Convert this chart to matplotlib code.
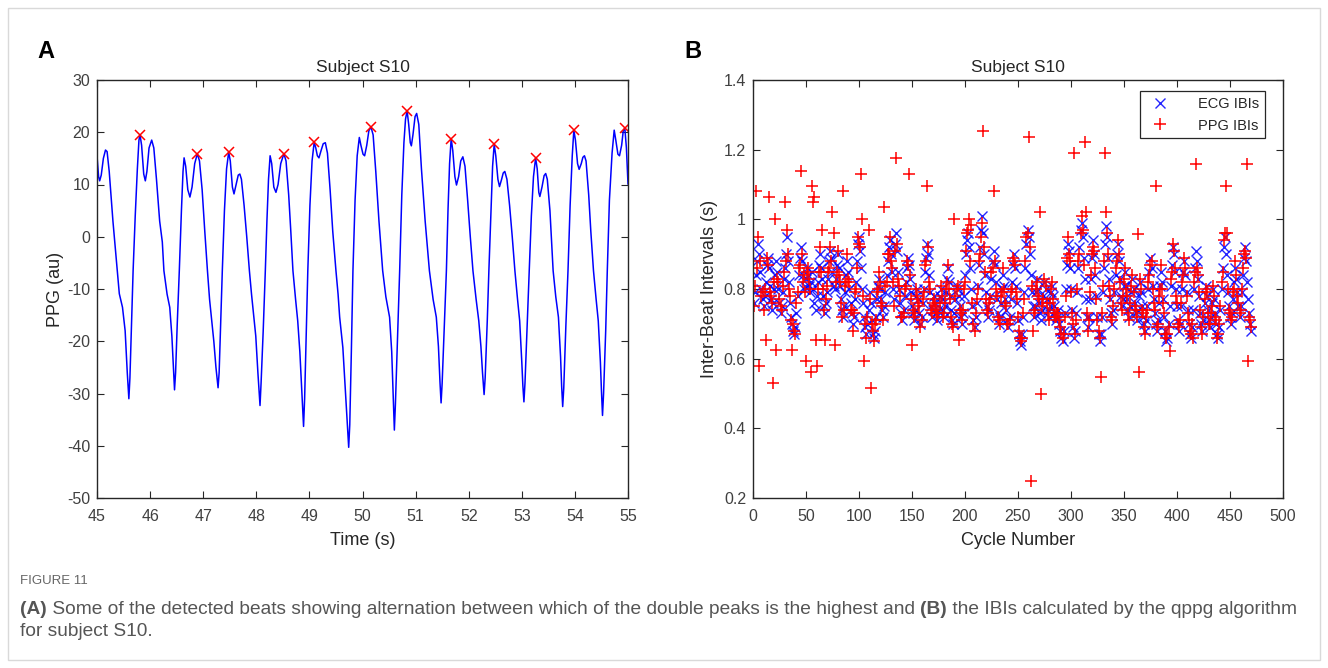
import numpy as np
import matplotlib.pyplot as plt
from matplotlib.patches import Rectangle
from matplotlib.ticker import FuncFormatter

plt.rcParams['font.family'] = ['Liberation Sans', 'DejaVu Sans']
plt.rcParams['axes.unicode_minus'] = False

# ---- panel A: PPG waveform, subject S10 (45-55 s) ----
ppg_t = [
    45.00, 45.03, 45.05, 45.08, 45.12, 45.16, 45.19, 45.23, 45.30, 45.37, 45.42, 45.48, 45.53, 45.57, 45.60,
    45.62, 45.65, 45.68, 45.72, 45.76, 45.79, 45.81, 45.84, 45.88, 45.91, 45.94, 45.98, 46.03, 46.07, 46.12,
    46.18, 46.23, 46.26, 46.32, 46.37, 46.41, 46.44, 46.46, 46.48, 46.51, 46.55, 46.59, 46.62, 46.64, 46.67,
    46.71, 46.75, 46.79, 46.84, 46.89, 46.93, 46.98, 47.03, 47.08, 47.12, 47.16, 47.20, 47.24, 47.28, 47.30,
    47.33, 47.36, 47.40, 47.44, 47.48, 47.51, 47.55, 47.58, 47.62, 47.66, 47.69, 47.72, 47.77, 47.82, 47.87,
    47.91, 47.95, 47.99, 48.03, 48.07, 48.09, 48.13, 48.17, 48.20, 48.23, 48.26, 48.29, 48.33, 48.37, 48.41,
    48.46, 48.52, 48.56, 48.61, 48.65, 48.69, 48.74, 48.78, 48.82, 48.86, 48.89, 48.91, 48.94, 48.97, 49.01,
    49.05, 49.09, 49.12, 49.15, 49.18, 49.22, 49.26, 49.30, 49.34, 49.39, 49.44, 49.50, 49.54, 49.57, 49.63,
    49.68, 49.72, 49.74, 49.76, 49.79, 49.82, 49.86, 49.90, 49.94, 49.97, 50.01, 50.04, 50.08, 50.12, 50.16,
    50.20, 50.25, 50.31, 50.38, 50.44, 50.51, 50.55, 50.58, 50.60, 50.62, 50.66, 50.70, 50.74, 50.78, 50.81,
    50.84, 50.87, 50.90, 50.92, 50.95, 50.99, 51.02, 51.06, 51.11, 51.18, 51.26, 51.33, 51.39, 51.43, 51.46,
    51.48, 51.50, 51.54, 51.58, 51.61, 51.64, 51.67, 51.70, 51.74, 51.77, 51.81, 51.85, 51.89, 51.93, 51.98,
    52.03, 52.08, 52.14, 52.19, 52.23, 52.26, 52.29, 52.31, 52.35, 52.38, 52.42, 52.45, 52.48, 52.51, 52.55,
    52.58, 52.62, 52.65, 52.68, 52.72, 52.77, 52.82, 52.87, 52.92, 52.96, 53.00, 53.02, 53.04, 53.06, 53.10,
    53.14, 53.18, 53.22, 53.26, 53.29, 53.32, 53.34, 53.38, 53.42, 53.45, 53.48, 53.53, 53.59, 53.64, 53.69,
    53.73, 53.75, 53.77, 53.79, 53.83, 53.87, 53.91, 53.95, 53.98, 54.01, 54.05, 54.08, 54.12, 54.15, 54.18,
    54.21, 54.26, 54.30, 54.35, 54.40, 54.44, 54.48, 54.50, 54.52, 54.54, 54.58, 54.61, 54.65, 54.70, 54.74,
    54.77, 54.81, 54.84, 54.88, 54.91, 54.94, 54.97, 55.00,
]
ppg_v = [
    15.5, 11.5, 10.7, 11.8, 15.0, 16.6, 16.3, 12.5, 3.0, -5.0, -10.9, -13.5, -18.0, -26.0, -31.0,
    -27.0, -17.0, -6.5, 4.0, 13.0, 18.5, 19.5, 17.5, 12.0, 10.7, 12.5, 17.0, 18.5, 17.0, 11.0,
    3.0, -1.0, -6.5, -11.0, -13.5, -19.0, -25.0, -29.3, -26.0, -17.0, -6.5, 5.0, 12.5, 15.1, 13.5,
    9.0, 7.6, 9.5, 14.0, 15.9, 14.5, 9.0, 1.0, -6.5, -12.0, -16.0, -20.0, -25.0, -28.9, -26.0,
    -16.0, -6.5, 5.0, 13.0, 16.2, 14.5, 9.5, 8.2, 10.0, 11.8, 12.0, 11.0, 6.0, 0.0, -6.5,
    -11.0, -15.0, -19.0, -26.0, -32.3, -28.0, -18.0, -6.5, 3.0, 11.0, 15.5, 14.0, 9.5, 8.5, 10.0,
    14.0, 15.9, 14.5, 8.0, 1.0, -6.5, -12.0, -16.1, -22.0, -30.0, -36.3, -31.0, -19.0, -6.5, 6.0,
    14.5, 18.1, 17.0, 15.5, 15.1, 16.5, 17.8, 18.0, 16.0, 9.0, 1.0, -6.5, -11.0, -15.4, -21.2,
    -30.0, -37.0, -40.3, -36.0, -22.0, -6.5, 7.0, 15.5, 19.0, 17.5, 15.8, 15.5, 17.5, 20.3, 21.0,
    19.5, 12.5, 3.0, -6.5, -11.5, -15.4, -22.0, -31.0, -37.0, -32.0, -19.0, -6.5, 8.0, 18.0, 22.5,
    24.1, 21.5, 18.0, 17.4, 19.5, 23.0, 23.6, 21.5, 13.0, 3.0, -6.5, -12.0, -15.4, -21.0, -28.0,
    -31.8, -28.0, -17.0, -6.5, 5.0, 14.0, 18.8, 16.5, 11.5, 9.9, 11.5, 14.5, 15.3, 13.5, 7.0,
    0.0, -6.5, -12.0, -16.1, -21.0, -26.0, -30.2, -27.0, -16.0, -6.5, 5.0, 13.5, 17.7, 15.5, 11.0,
    9.6, 11.0, 12.2, 12.5, 11.0, 6.0, 0.0, -6.5, -12.0, -16.1, -24.0, -28.5, -31.6, -28.0, -17.0,
    -6.5, 4.0, 11.5, 15.1, 13.0, 8.5, 7.7, 9.5, 11.7, 12.1, 11.0, 5.0, -6.5, -11.5, -15.4,
    -23.0, -28.5, -32.5, -29.0, -17.0, -6.5, 6.0, 15.5, 20.4, 18.5, 14.0, 12.9, 14.0, 15.2, 15.5,
    14.5, 8.0, 1.0, -6.5, -12.0, -16.1, -24.0, -29.5, -34.2, -30.0, -18.0, -6.5, 7.0, 16.0, 20.4,
    18.5, 15.8, 15.5, 17.5, 20.2, 20.8, 17.0, 10.1,
]

# detected beats (red crosses)
beat_t = [45.81, 46.89, 47.48, 48.52, 49.09, 50.16, 50.84, 51.67, 52.48, 53.26, 53.98, 54.94]
beat_v = [19.5, 15.9, 16.2, 15.9, 18.1, 21.0, 24.1, 18.8, 17.7, 15.1, 20.4, 20.8]

# ---- panel B: inter-beat intervals per cycle ----
ecg_ibi = [
    0.76, 0.79, 0.84, 0.88, 0.93, 0.90, 0.85, 0.80, 0.77, 0.75,
    0.78, 0.82, 0.87, 0.89, 0.86, 0.81, 0.77, 0.74, 0.76, 0.80,
    0.84, 0.88, 0.85, 0.80, 0.76, 0.73, 0.75, 0.79, 0.83, 0.86,
    0.90, 0.95, 0.88, 0.82, 0.76, 0.72, 0.70, 0.68, 0.67, 0.69,
    0.73, 0.78, 0.84, 0.89, 0.92, 0.88, 0.84, 0.80, 0.81, 0.83,
    0.86, 0.84, 0.81, 0.79, 0.82, 0.85, 0.80, 0.76, 0.74, 0.78,
    0.82, 0.87, 0.90, 0.86, 0.83, 0.78, 0.75, 0.73, 0.76, 0.79,
    0.83, 0.88, 0.91, 0.89, 0.85, 0.81, 0.80, 0.83, 0.87, 0.90,
    0.86, 0.81, 0.77, 0.74, 0.72, 0.75, 0.79, 0.84, 0.88, 0.85,
    0.80, 0.76, 0.73, 0.70, 0.72, 0.77, 0.82, 0.88, 0.93, 0.95,
    0.91, 0.86, 0.80, 0.76, 0.72, 0.69, 0.67, 0.70, 0.74, 0.79,
    0.76, 0.71, 0.67, 0.66, 0.68, 0.72, 0.77, 0.81, 0.83, 0.80,
    0.77, 0.74, 0.72, 0.75, 0.79, 0.84, 0.88, 0.92, 0.94, 0.90,
    0.85, 0.80, 0.77, 0.93, 0.96, 0.91, 0.85, 0.80, 0.76, 0.73,
    0.71, 0.74, 0.78, 0.82, 0.86, 0.89, 0.87, 0.83, 0.79, 0.75,
    0.73, 0.71, 0.74, 0.78, 0.80, 0.77, 0.73, 0.70, 0.72, 0.76,
    0.80, 0.85, 0.89, 0.93, 0.90, 0.84, 0.79, 0.75, 0.72, 0.74,
    0.78, 0.76, 0.73, 0.71, 0.74, 0.78, 0.80, 0.77, 0.74, 0.72,
    0.75, 0.79, 0.83, 0.86, 0.82, 0.78, 0.74, 0.71, 0.70, 0.73,
    0.77, 0.81, 0.80, 0.78, 0.75, 0.72, 0.70, 0.73, 0.78, 0.84,
    0.90, 0.94, 0.96, 0.92, 0.86, 0.80, 0.75, 0.71, 0.69, 0.72,
    0.76, 0.81, 0.87, 0.92, 0.97, 1.01, 0.96, 0.90, 0.84, 0.79,
    0.75, 0.72, 0.74, 0.78, 0.83, 0.88, 0.91, 0.87, 0.82, 0.77,
    0.73, 0.70, 0.72, 0.76, 0.80, 0.84, 0.81, 0.77, 0.74, 0.71,
    0.69, 0.72, 0.77, 0.82, 0.87, 0.90, 0.86, 0.81, 0.76, 0.71,
    0.67, 0.65, 0.64, 0.67, 0.72, 0.79, 0.86, 0.93, 0.97, 0.95,
    0.90, 0.84, 0.79, 0.75, 0.72, 0.75, 0.79, 0.83, 0.80, 0.76,
    0.73, 0.71, 0.74, 0.78, 0.82, 0.80, 0.77, 0.74, 0.72, 0.75,
    0.79, 0.81, 0.78, 0.75, 0.73, 0.71, 0.72, 0.74, 0.70, 0.68,
    0.66, 0.65, 0.68, 0.73, 0.80, 0.87, 0.93, 0.91, 0.86, 0.80,
    0.74, 0.69, 0.66, 0.68, 0.73, 0.79, 0.86, 0.92, 0.97, 0.99,
    0.95, 0.89, 0.83, 0.77, 0.72, 0.69, 0.72, 0.77, 0.83, 0.89,
    0.94, 0.90, 0.84, 0.78, 0.72, 0.67, 0.65, 0.67, 0.72, 0.79,
    0.86, 0.93, 0.98, 0.95, 0.89, 0.83, 0.77, 0.73, 0.70, 0.74,
    0.79, 0.84, 0.90, 0.93, 0.88, 0.83, 0.78, 0.75, 0.77, 0.81,
    0.85, 0.81, 0.77, 0.74, 0.72, 0.75, 0.79, 0.83, 0.80, 0.76,
    0.73, 0.71, 0.74, 0.78, 0.82, 0.79, 0.75, 0.72, 0.70, 0.68,
    0.71, 0.75, 0.80, 0.85, 0.89, 0.86, 0.81, 0.77, 0.73, 0.70,
    0.68, 0.71, 0.76, 0.81, 0.85, 0.82, 0.77, 0.72, 0.68, 0.65,
    0.66, 0.70, 0.75, 0.81, 0.87, 0.92, 0.90, 0.85, 0.80, 0.75,
    0.71, 0.68, 0.70, 0.75, 0.80, 0.85, 0.88, 0.84, 0.79, 0.74,
    0.70, 0.67, 0.66, 0.69, 0.74, 0.80, 0.86, 0.91, 0.88, 0.83,
    0.78, 0.73, 0.70, 0.68, 0.71, 0.76, 0.81, 0.78, 0.74, 0.71,
    0.69, 0.72, 0.76, 0.80, 0.77, 0.73, 0.70, 0.67, 0.66, 0.69,
    0.74, 0.80, 0.86, 0.92, 0.95, 0.90, 0.84, 0.79, 0.75, 0.72,
    0.70, 0.73, 0.77, 0.82, 0.86, 0.83, 0.79, 0.75, 0.72, 0.75,
    0.79, 0.84, 0.89, 0.92, 0.88, 0.82, 0.77, 0.73, 0.70, 0.68,
]
ppg_ibi = [
    0.75, 0.81, 1.08, 0.86, 0.95, 0.58, 0.88, 0.78, 0.79, 0.74,
    0.80, 0.655, 0.89, 0.87, 1.065, 0.79, 0.78, 0.76, 0.53, 0.82,
    1.00, 0.625, 0.83, 0.82, 0.77, 0.75, 0.74, 0.81, 0.85, 1.05,
    0.88, 0.97, 0.90, 0.80, 0.78, 0.71, 0.625, 0.70, 0.68, 0.67,
    0.76, 0.79, 0.86, 0.87, 1.14, 0.90, 0.82, 0.84, 0.79, 0.594,
    0.85, 0.86, 0.83, 0.80, 0.563, 1.095, 1.05, 1.065, 0.655, 0.58,
    0.80, 0.85, 0.92, 0.85, 0.97, 0.80, 0.74, 0.655, 0.77, 0.81,
    0.85, 0.86, 0.92, 0.88, 1.02, 0.96, 0.64, 0.82, 0.85, 0.91,
    0.84, 0.82, 0.76, 0.72, 1.08, 0.74, 0.81, 0.82, 0.90, 0.83,
    0.82, 0.74, 0.74, 0.68, 0.73, 0.79, 0.80, 0.86, 0.95, 0.93,
    0.92, 1.13, 1.00, 0.78, 0.594, 0.70, 0.66, 0.72, 0.97, 0.77,
    0.516, 0.70, 0.68, 0.65, 0.70, 0.71, 0.79, 0.80, 0.85, 0.82,
    0.76, 0.75, 0.71, 1.035, 0.81, 0.82, 0.90, 0.90, 0.95, 0.88,
    0.86, 0.82, 0.75, 0.91, 1.175, 0.93, 0.83, 0.81, 0.78, 0.72,
    0.72, 0.73, 0.80, 0.81, 0.88, 0.87, 1.13, 0.84, 0.77, 0.64,
    0.74, 0.72, 0.73, 0.80, 0.78, 0.76, 0.75, 0.69, 0.71, 0.77,
    0.79, 0.87, 0.88, 1.095, 0.92, 0.82, 0.80, 0.74, 0.73, 0.76,
    0.77, 0.75, 0.74, 0.72, 0.73, 0.76, 0.81, 0.78, 0.72, 0.73,
    0.76, 0.80, 0.82, 0.87, 0.80, 0.77, 0.72, 0.70, 0.69, 1.00,
    0.78, 0.80, 0.81, 0.655, 0.74, 0.73, 0.71, 0.74, 0.80, 0.82,
    0.91, 0.96, 0.97, 1.00, 0.88, 0.985, 0.76, 0.70, 0.68, 0.73,
    0.77, 0.80, 0.88, 0.90, 0.95, 0.99, 1.255, 0.92, 0.85, 0.77,
    0.74, 0.73, 0.76, 0.77, 0.85, 0.86, 1.08, 0.88, 0.80, 0.78,
    0.72, 0.71, 0.70, 0.78, 0.79, 0.86, 0.80, 0.76, 0.75, 0.70,
    0.70, 0.71, 0.79, 0.80, 0.89, 0.88, 0.87, 0.79, 0.77, 0.72,
    0.68, 0.66, 0.65, 0.66, 0.73, 0.77, 0.88, 0.95, 0.96, 1.237,
    0.92, 0.249, 0.81, 0.68, 0.73, 0.74, 0.80, 0.82, 0.78, 0.77,
    1.02, 0.499, 0.75, 0.77, 0.83, 0.81, 0.76, 0.73, 0.71, 0.76,
    0.80, 0.82, 0.77, 0.74, 0.72, 0.72, 0.73, 0.73, 0.71, 0.69,
    0.67, 0.66, 0.67, 0.72, 0.78, 0.89, 0.95, 0.90, 0.88, 0.79,
    0.73, 0.70, 1.19, 0.67, 0.71, 0.80, 0.88, 0.90, 0.96, 1.01,
    0.97, 0.87, 1.223, 1.02, 0.73, 0.68, 0.71, 0.79, 0.84, 0.90,
    0.92, 0.91, 0.86, 0.77, 0.71, 0.68, 0.66, 0.546, 0.73, 0.81,
    0.88, 1.19, 1.02, 0.96, 0.90, 0.81, 0.78, 0.72, 0.71, 0.75,
    0.80, 0.86, 0.88, 0.94, 0.90, 0.82, 0.76, 0.74, 0.78, 0.83,
    0.86, 0.80, 0.78, 0.73, 0.71, 0.76, 0.81, 0.84, 0.79, 0.75,
    0.74, 0.72, 0.957, 0.563, 0.83, 0.80, 0.74, 0.73, 0.69, 0.67,
    0.72, 0.74, 0.82, 0.84, 0.87, 0.88, 0.80, 0.76, 0.74, 1.097,
    0.69, 0.70, 0.78, 0.80, 0.87, 0.80, 0.76, 0.73, 0.67, 0.66,
    0.67, 0.69, 0.622, 0.83, 0.85, 0.93, 0.91, 0.86, 0.78, 0.76,
    0.70, 0.69, 0.71, 0.76, 0.82, 0.84, 0.89, 0.86, 0.78, 0.73,
    0.71, 0.68, 0.67, 0.70, 0.658, 0.82, 0.85, 1.159, 0.86, 0.84,
    0.79, 0.74, 0.69, 0.67, 0.72, 0.77, 0.80, 0.79, 0.73, 0.70,
    0.70, 0.73, 0.75, 0.81, 0.78, 0.72, 0.71, 0.66, 0.67, 0.70,
    0.75, 0.82, 0.85, 0.94, 0.96, 1.097, 0.96, 0.80, 0.74, 0.73,
    0.71, 0.72, 0.79, 0.80, 0.88, 0.84, 0.78, 0.76, 0.73, 0.74,
    0.80, 0.86, 0.90, 0.91, 0.89, 1.159, 0.593, 0.72, 0.71, 0.69,
]
cycles = np.arange(1, len(ecg_ibi) + 1)

axis_col = '#262626'
tick_col = '#404040'

fig = plt.figure(figsize=(13.28, 6.68), dpi=100)
fig.patches.append(Rectangle((8 / 1328, 8 / 668), 1312 / 1328, 652 / 668,
                             transform=fig.transFigure, fill=False,
                             edgecolor='#d9d9d9', linewidth=1))


def matlab_style(ax):
    for s in ax.spines.values():
        s.set_color(axis_col)
        s.set_linewidth(1.0)
    ax.tick_params(direction='in', length=5, width=0.8, top=True, right=True,
                   colors=axis_col, labelcolor=tick_col, labelsize=11.5)
    ax.tick_params(axis='x', pad=8)
    ax.tick_params(axis='y', pad=5)


axA = fig.add_axes([97 / 1328, 1 - 498 / 668, 531 / 1328, 418 / 668])
axA.plot(ppg_t, ppg_v, color='#0000ff', linewidth=1.1)
axA.plot(beat_t, beat_v, 'x', color='#ff0000', markersize=7, markeredgewidth=1.1)
axA.set_xlim(45, 55)
axA.set_ylim(-50, 30)
axA.set_xticks(range(45, 56))
axA.set_yticks(range(-50, 31, 10))
axA.set_xlabel('Time (s)', fontsize=13, color=axis_col, labelpad=6)
axA.set_ylabel('PPG (au)', fontsize=13, color=axis_col, labelpad=2)
axA.set_title('Subject S10', fontsize=12.5, color=axis_col, pad=6)
matlab_style(axA)

axB = fig.add_axes([753 / 1328, 1 - 498 / 668, 530 / 1328, 418 / 668])
axB.plot(cycles, ecg_ibi, 'x', color='#0000ff', markersize=7.5, markeredgewidth=1.0,
         label='ECG IBIs', alpha=0.85)
axB.plot(cycles, ppg_ibi, '+', color='#ff0000', markersize=9, markeredgewidth=1.1,
         label='PPG IBIs')
axB.set_xlim(0, 500)
axB.set_ylim(0.2, 1.4)
axB.set_xticks(range(0, 501, 50))
axB.set_yticks([0.2, 0.4, 0.6, 0.8, 1.0, 1.2, 1.4])
axB.yaxis.set_major_formatter(FuncFormatter(lambda v, p: '%g' % round(v, 2)))
axB.set_xlabel('Cycle Number', fontsize=13, color=axis_col, labelpad=6)
axB.set_ylabel('Inter-Beat Intervals (s)', fontsize=13, color=axis_col, labelpad=4)
axB.set_title('Subject S10', fontsize=12.5, color=axis_col, pad=6)
matlab_style(axB)
leg = axB.legend(loc='upper right', fontsize=10.5, fancybox=False, framealpha=1,
                 edgecolor=axis_col, borderpad=0.4, handletextpad=1.6,
                 bbox_to_anchor=(0.98, 0.99))
leg.get_frame().set_linewidth(0.9)
for txt in leg.get_texts():
    txt.set_color(axis_col)

fig.text(37 / 1328, 1 - 52 / 668, 'A', fontsize=17, fontweight='bold', va='center')
fig.text(684 / 1328, 1 - 52 / 668, 'B', fontsize=17, fontweight='bold', va='center')

# caption: pieces laid one after another so that (A) and (B) can be bold
cap_font = ['Liberation Sans', 'DejaVu Sans']
cap_col = '#555555'
cap_size = 13.8
fig.text(20 / 1328, 1 - 581 / 668, 'FIGURE 11', fontsize=9.5, color='#666666',
         family=cap_font, va='center')

renderer = fig.canvas.get_renderer()
pieces = [('(A)', 'bold'), (' Some of the detected beats showing alternation between which of '
          'the double peaks is the highest and ', 'normal'), ('(B)', 'bold'),
          (' the IBIs calculated by the qppg algorithm', 'normal')]
x_px = 20
for s, w in pieces:
    t = fig.text(x_px / 1328, 1 - 609 / 668, s, fontsize=cap_size, color=cap_col,
                 family=cap_font, fontweight=w, va='center')
    x_px += t.get_window_extent(renderer).width
fig.text(20 / 1328, 1 - 631 / 668, 'for subject S10.', fontsize=cap_size, color=cap_col,
         family=cap_font, va='center')

fig.savefig('out.png', dpi=100)
